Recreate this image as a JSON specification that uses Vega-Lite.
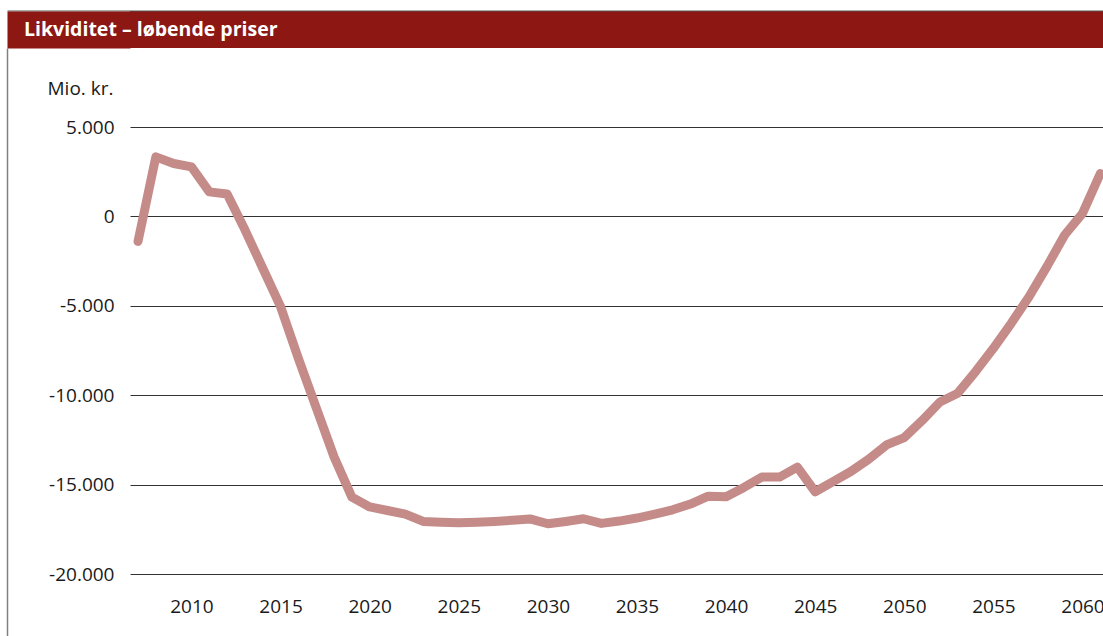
{
  "$schema": "https://vega.github.io/schema/vega-lite/v6.json",
  "padding": {"left": 7, "top": 10, "right": 0, "bottom": 0},
  "background": "white",
  "spacing": 31,
  "config": {
    "view": {"stroke": null},
    "font": "Open Sans"
  },
  "vconcat": [
    {
      "width": 973,
      "height": 37,
      "view": {"fill": "#8C1713", "stroke": null},
      "data": {"values": [{"title": "Likviditet – løbende priser"}]},
      "mark": {"type": "text", "align": "left", "baseline": "middle", "dx": 17, "color": "white", "fontWeight": "bold", "fontSize": 19.5, "font": "Open Sans"},
      "encoding": {
        "text": {"field": "title"},
        "x": {
          "datum": 0, "type": "quantitative",
          "scale": {"domain": [0, 1], "range": [-123, 973], "nice": false, "zero": false},
          "axis": {
            "orient": "top", "labels": false, "ticks": false, "grid": false, "title": null,
            "domain": true, "domainColor": "#555555", "domainWidth": 1, "offset": 0.5,
            "minExtent": 0
          }
        },
        "y": {
          "datum": 0.5, "type": "quantitative",
          "scale": {"domain": [0, 1], "nice": false, "zero": false},
          "axis": {
            "orient": "left", "labels": false, "ticks": false, "grid": false, "title": null,
            "domain": true, "domainColor": "#8C1713", "domainWidth": 123, "offset": 61.5,
            "minExtent": 0
          }
        }
      }
    },
    {
      "width": 973,
      "height": 447,
      "data": {"values": [
        {"year": 2007, "value": -1400},
        {"year": 2008, "value": 3330},
        {"year": 2009, "value": 2960},
        {"year": 2010, "value": 2770},
        {"year": 2011, "value": 1370},
        {"year": 2012, "value": 1250},
        {"year": 2013, "value": -750},
        {"year": 2014, "value": -2900},
        {"year": 2015, "value": -5050},
        {"year": 2016, "value": -7950},
        {"year": 2017, "value": -10700},
        {"year": 2018, "value": -13450},
        {"year": 2019, "value": -15700},
        {"year": 2020, "value": -16250},
        {"year": 2021, "value": -16450},
        {"year": 2022, "value": -16650},
        {"year": 2023, "value": -17060},
        {"year": 2024, "value": -17110},
        {"year": 2025, "value": -17140},
        {"year": 2026, "value": -17100},
        {"year": 2027, "value": -17060},
        {"year": 2028, "value": -17000},
        {"year": 2029, "value": -16920},
        {"year": 2030, "value": -17190},
        {"year": 2031, "value": -17060},
        {"year": 2032, "value": -16910},
        {"year": 2033, "value": -17170},
        {"year": 2034, "value": -17040},
        {"year": 2035, "value": -16870},
        {"year": 2036, "value": -16650},
        {"year": 2037, "value": -16410},
        {"year": 2038, "value": -16090},
        {"year": 2039, "value": -15650},
        {"year": 2040, "value": -15680},
        {"year": 2041, "value": -15160},
        {"year": 2042, "value": -14580},
        {"year": 2043, "value": -14580},
        {"year": 2044, "value": -14020},
        {"year": 2045, "value": -15400},
        {"year": 2046, "value": -14830},
        {"year": 2047, "value": -14270},
        {"year": 2048, "value": -13580},
        {"year": 2049, "value": -12780},
        {"year": 2050, "value": -12370},
        {"year": 2051, "value": -11420},
        {"year": 2052, "value": -10380},
        {"year": 2053, "value": -9890},
        {"year": 2054, "value": -8680},
        {"year": 2055, "value": -7380},
        {"year": 2056, "value": -5980},
        {"year": 2057, "value": -4490},
        {"year": 2058, "value": -2810},
        {"year": 2059, "value": -1040},
        {"year": 2060, "value": 170},
        {"year": 2061, "value": 2400}
      ]},
      "resolve": {"scale": {"y": "independent"}, "axis": {"y": "independent"}},
      "layer": [
        {
          "mark": {"type": "line", "color": "#C48B88", "strokeWidth": 9, "strokeCap": "round", "strokeJoin": "round"},
          "encoding": {
            "x": {
              "field": "year", "type": "quantitative",
              "scale": {"domain": [2006.55, 2061.15], "nice": false, "zero": false},
              "axis": {
                "values": [2010, 2015, 2020, 2025, 2030, 2035, 2040, 2045, 2050, 2055, 2060],
                "format": "d", "grid": false, "ticks": false, "domain": false,
                "labelPadding": 23, "labelFontSize": 19, "labelColor": "#1a1a1a", "labelFont": "Open Sans",
                "labelFlush": false, "labelOverlap": false, "title": null
              }
            },
            "y": {
              "field": "value", "type": "quantitative",
              "scale": {"domain": [-20000, 5000], "nice": false, "zero": false},
              "axis": {
                "orient": "left",
                "values": [-20000, -15000, -10000, -5000, 0, 5000],
                "labelExpr": "replace(replace(format(datum.value, ','), ',', '.'), '−', '-')",
                "grid": true, "gridColor": "#333333", "gridWidth": 1,
                "ticks": false, "domain": false,
                "labelPadding": 16, "labelFontSize": 19, "labelColor": "#1a1a1a", "labelFont": "Open Sans",
                "labelFlush": false,
                "minExtent": 123,
                "title": "Mio. kr.", "titleAngle": 0, "titleAlign": "right", "titleBaseline": "middle",
                "titleX": -17, "titleY": -39, "titleFont": "Open Sans", "titleFontSize": 19,
                "titleFontWeight": "normal", "titleColor": "#1a1a1a"
              }
            }
          }
        },
        {
          "mark": {"type": "point", "opacity": 0},
          "encoding": {
            "x": {"field": "year", "type": "quantitative"},
            "y": {
              "field": "value", "type": "quantitative",
              "scale": {"domain": [-20000, 5000], "range": [509, -79], "nice": false, "zero": false},
              "axis": {
                "orient": "left", "labels": false, "ticks": false, "grid": false, "title": null,
                "domain": true, "domainColor": "#808080", "domainWidth": 1.5, "offset": 123,
                "minExtent": 0
              }
            }
          }
        }
      ]
    }
  ]
}
